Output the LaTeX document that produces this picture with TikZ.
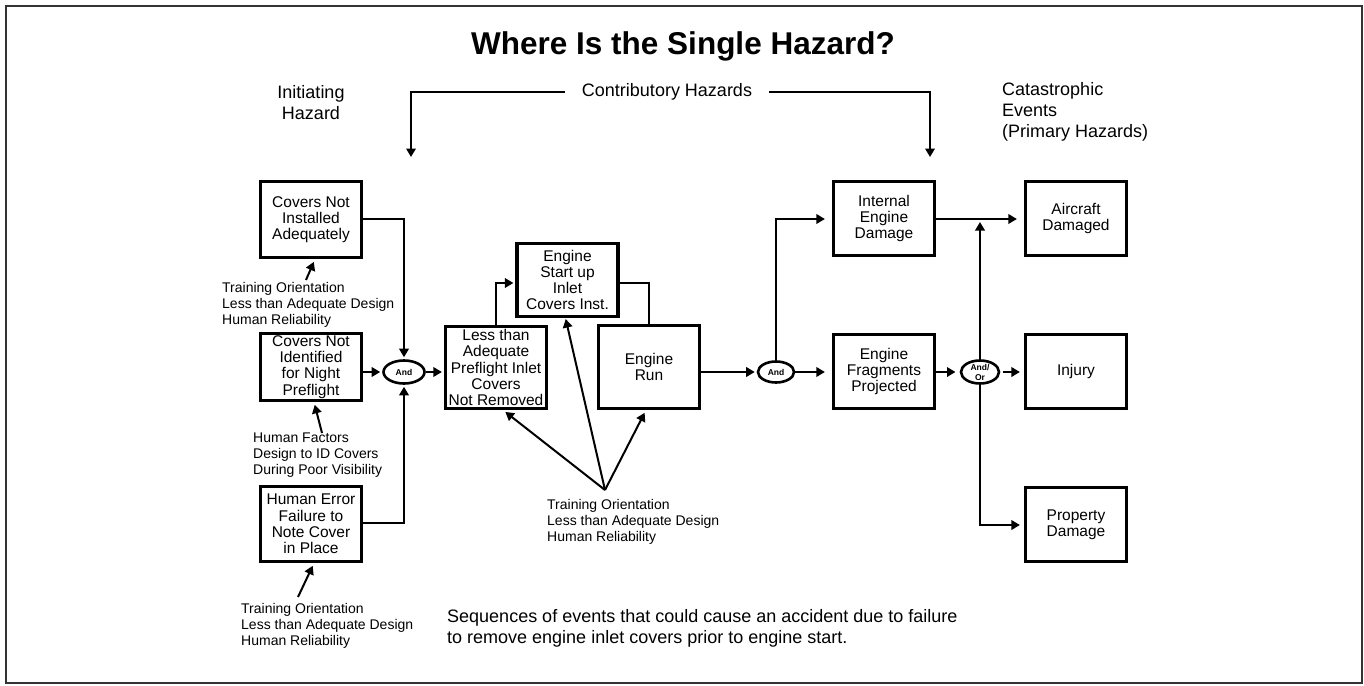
\documentclass[tikz,border=0pt]{standalone}
\usepackage{fontspec}
\setmainfont{Liberation Sans}
\usetikzlibrary{arrows.meta,shapes.geometric}

\tikzset{
  evbox/.style={draw, line width=3.2pt, minimum width=101pt, align=center,
    inner sep=2pt, font=\fontsize{15.5}{16.2}\selectfont},
  gate/.style={draw, ellipse, line width=2.6pt, inner sep=0pt, align=center,
    font=\bfseries\fontsize{8.5}{9}\selectfont},
  conn/.style={line width=2pt, -{Triangle[length=8.5pt,width=9.5pt]}, shorten >=2pt},
  plain/.style={line width=2pt},
  note/.style={align=left, inner sep=0pt, anchor=west,
    font=\fontsize{14}{16.3}\selectfont},
  head/.style={align=center, inner sep=0pt, font=\fontsize{18}{21}\selectfont},
}

\begin{document}
\begin{tikzpicture}[x=1pt, y=-1pt]
\useasboundingbox (0,0) rectangle (1364,685);
\draw[black!80, line width=1.6pt] (6,6) rectangle (1362,683);

% title and column headings
\node[font=\bfseries\fontsize{31.5}{31.5}\selectfont] (title) at (683,46) {Where Is the Single Hazard?};
\node[head] (init) at (311,102.5) {Initiating\\Hazard};
\node[head, inner xsep=17pt] (contrib) at (667,92) {Contributory Hazards};
\node[head, align=left, anchor=west] (cat) at (1002,112) {Catastrophic\\Events\\(Primary Hazards)};
\coordinate (cL) at (411,157);
\coordinate (cR) at (930,157);
\draw[conn, shorten >=0pt] (contrib.west) -| (cL);
\draw[conn, shorten >=0pt] (contrib.east) -| (cR);

% initiating hazards
\node[evbox, minimum height=76pt] (b1) at (311,219.5) {Covers Not\\Installed\\Adequately};
\node[evbox, minimum height=65pt] (b2) at (311,367) {Covers Not\\Identified\\for Night\\Preflight};
\node[evbox, minimum height=75pt] (b3) at (311,524) {Human Error\\Failure to\\Note Cover\\in Place};

% first gate
\node[gate, minimum width=41pt, minimum height=23pt] (g1) at (404,372) {And};

% contributory chain
\node[evbox, minimum height=82pt, inner sep=1pt] (b4) at (496,367.5) {Less than\\Adequate\\Preflight Inlet\\Covers\\Not Removed};
\node[evbox, minimum height=73pt] (b5) at (567.5,280) {Engine\\Start up\\Inlet\\Covers Inst.};
\node[evbox, minimum height=83pt] (b6) at (649,367) {Engine\\Run};

\node[gate, minimum width=36pt, minimum height=21pt] (g2) at (776,372) {And};

\node[evbox, minimum height=74pt] (b7) at (884,218.5) {Internal\\Engine\\Damage};
\node[evbox, minimum height=74pt] (b8) at (884,371.5) {Engine\\Fragments\\Projected};

% and/or gate: the outline is stroked after the text so the lower line sits under it
\node[gate, draw=none, minimum width=38pt, minimum height=23pt, font=\bfseries\fontsize{8.5}{10}\selectfont] (g3) at (980,372) {\raisebox{-2pt}{\parbox{30pt}{\centering And/\\Or}}};
\draw[line width=2.6pt] (g3.center) ellipse [x radius=19pt, y radius=11.5pt];

% catastrophic events
\node[evbox, minimum height=74pt] (b9) at (1076,218.5) {Aircraft\\Damaged};
\node[evbox, minimum height=74pt] (b10) at (1076,371.5) {Injury};
\node[evbox, minimum height=74pt] (b11) at (1076,524.5) {Property\\Damage};

% connectors, left part
\draw[conn] (b1.east |- 0,219) -| (g1.north);
\draw[conn] (b2.east |- g1) -- (g1.west);
\draw[conn] (b3.east |- 0,523) -| (g1.south);
\draw[conn] (g1.east) -- (g1.east -| b4.west);
\draw[conn] (b4.north) |- (b5.west |- 0,283);
\draw[plain] (b5.east |- 0,283) -| (b6.north);
\draw[conn] (b6.east |- g2) -- (g2.west);

% connectors, right part
\draw[conn, shorten >=7pt] (g2.east) -- (g2.east -| b8.west);
\draw[conn, shorten >=7pt] (g2.north) |- (b7.west |- 0,219);
\draw[conn] (b8.east |- g3) -- (g3.west);
\draw[conn, shorten >=7pt] (b7.east |- 0,219) -- (b9.west |- 0,219);
\coordinate (j) at (980,219);
\draw[conn, shorten >=3pt] (g3.north) -- (j);
\draw[conn, shorten >=4pt] (g3.east) -- (g3.east -| b10.west);
\draw[conn, shorten >=4pt] (g3.south) |- (b11.west |- 0,525);

% causal factors
\node[note] (n1) at (222,305) {Training Orientation\\Less than Adequate Design\\Human Reliability};
\node[note] (n2) at (253,455) {Human Factors\\Design to ID Covers\\During Poor Visibility};
\node[note] (n3) at (241,626) {Training Orientation\\Less than Adequate Design\\Human Reliability};
\node[note] (n4) at (547,522) {Training Orientation\\Less than Adequate Design\\Human Reliability};

\coordinate (t1) at (306,280);
\coordinate (t2) at (322,433);
\coordinate (t3) at (298,597);
\coordinate (t4) at (605,490);
\draw[conn, shorten >=3pt] (t1) -- ([xshift=4pt]b1.south);
\draw[conn, shorten >=3pt] (t2) -- ([xshift=3pt]b2.south);
\draw[conn, shorten >=3pt] (t3) -- ([xshift=3pt]b3.south);
\draw[conn, shorten >=3pt] (t4) -- ([xshift=7pt]b4.south);
\draw[conn, shorten >=1pt] (t4) -- ([xshift=-2pt]b5.south);
\draw[conn, shorten >=3pt] (t4) -- ([xshift=-3pt]b6.south);

% caption
\node[note, font=\fontsize{18}{21}\selectfont] (cap) at (447,628.5) {Sequences of events that could cause an accident due to failure\\to remove engine inlet covers prior to engine start.};
\end{tikzpicture}
\end{document}
